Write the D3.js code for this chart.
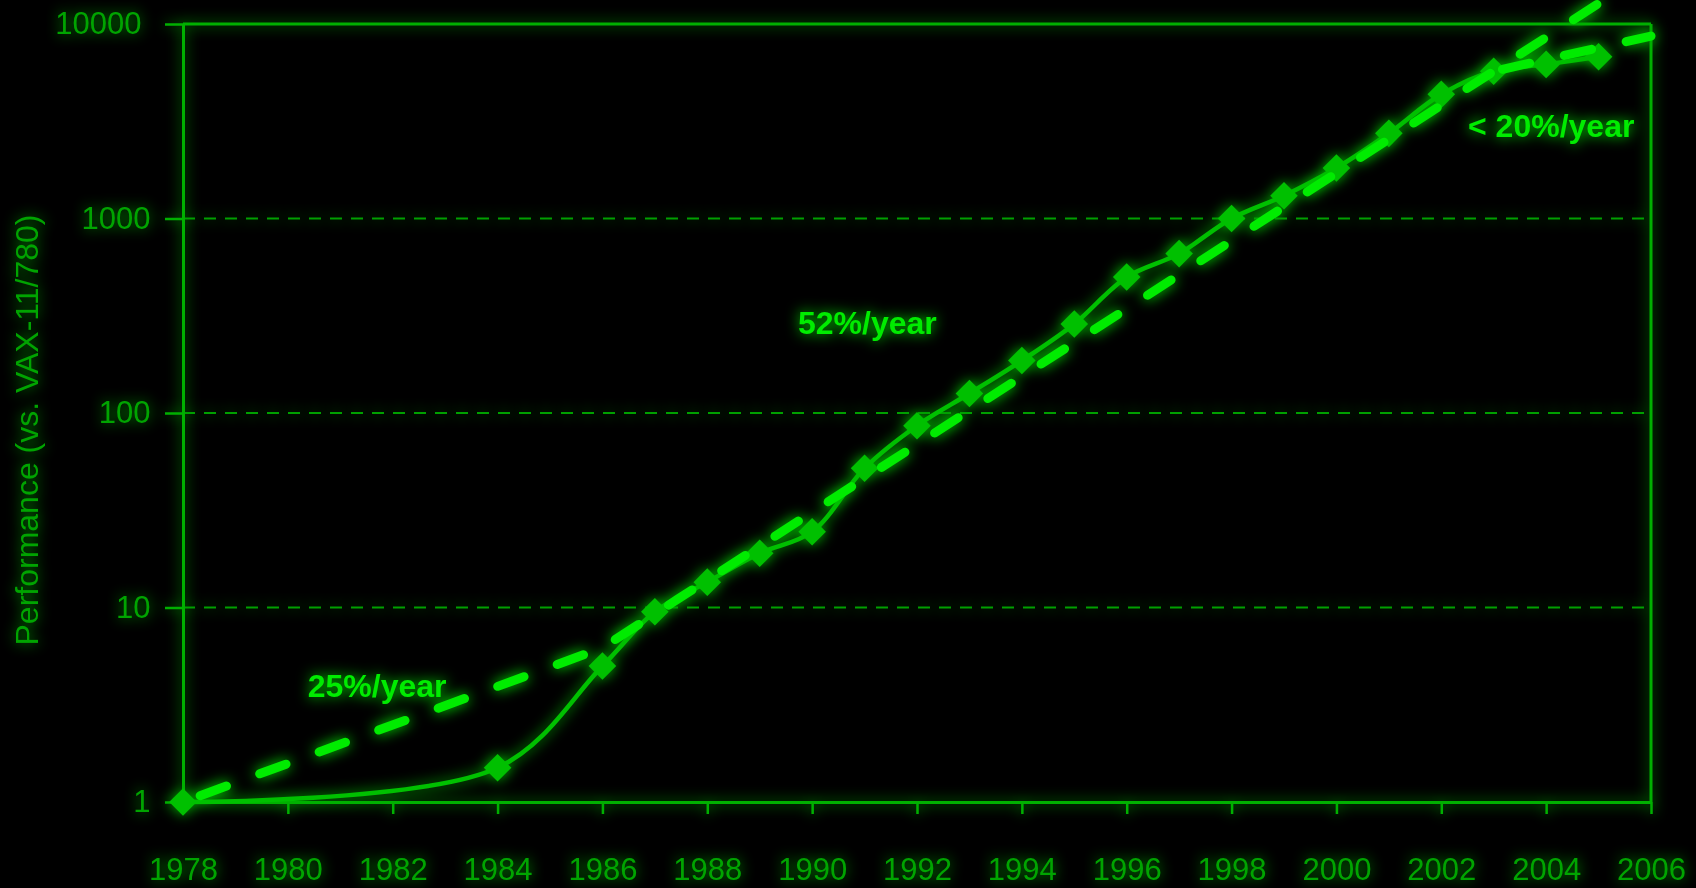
<!DOCTYPE html>
<html>
<head>
<meta charset="utf-8">
<script src="https://cdn.jsdelivr.net/npm/d3@7"></script>
<style>
  html, body { margin: 0; padding: 0; background: #000; }
  svg { display: block; }
</style>
</head>
<body>
<svg id="chart" width="1696" height="888"></svg>
<script>
// ---- data ----
const years = [1978, 1984, 1986, 1987, 1988, 1989, 1990, 1991, 1992, 1993, 1994, 1995, 1996, 1997, 1998, 1999, 2000, 2001, 2002, 2003, 2004, 2005];
const performance = [1, 1.5, 5.0, 9.5, 13.5, 19, 24.5, 52, 86, 126, 186, 287, 500, 660, 1000, 1310, 1820, 2740, 4350, 5720, 6200, 6780];

const trendYears = [1978, 1986, 2005];
const trendValues = [1, 6.2, 12760];

const slowYears = [2003, 2006];
const slowValues = [5715, 8670];

const xTicks = [1978, 1980, 1982, 1984, 1986, 1988, 1990, 1992, 1994, 1996, 1998, 2000, 2002, 2004, 2006];
const yTicks = [1, 10, 100, 1000, 10000];
const gridValues = [10, 100, 1000];

const annotations = [
  { text: "25%/year", year: 1980.38, value: 3.47 },
  { text: "52%/year", year: 1989.73, value: 255 },
  { text: "< 20%/year", year: 2002.51, value: 2624 }
];
const yTitle = "Performance (vs. VAX-11/780)";

// ---- layout ----
const svg = d3.select("#chart");
const L = 183, R = 1651, T = 24, B = 802;
const x = d3.scaleLinear().domain([1978, 2006]).range([L, R]);
const y = d3.scaleLog().domain([1, 10000]).range([B, T]);

const axisColor = "#00b000";
const labelColor = "#00a400";
const markColor = "#00c000";
const brightColor = "#00ec00";

const defs = svg.append("defs");
const f = defs.append("filter").attr("id", "glow")
  .attr("filterUnits", "userSpaceOnUse")
  .attr("x", 0).attr("y", 0).attr("width", 1696).attr("height", 888);
f.append("feGaussianBlur").attr("in", "SourceGraphic").attr("stdDeviation", 7).attr("result", "blur");
const ct = f.append("feComponentTransfer").attr("in", "blur").attr("result", "blur2");
ct.append("feFuncA").attr("type", "linear").attr("slope", 1.0);
const merge = f.append("feMerge");
merge.append("feMergeNode").attr("in", "blur2");
merge.append("feMergeNode").attr("in", "SourceGraphic");

svg.append("rect").attr("width", 1696).attr("height", 888).attr("fill", "#000");

const g = svg.append("g").attr("filter", "url(#glow)");

// gridlines
g.append("g").selectAll("line").data(gridValues).join("line")
  .attr("x1", L).attr("x2", R)
  .attr("y1", d => y(d)).attr("y2", d => y(d))
  .attr("stroke", "#00a000").attr("stroke-width", 2)
  .attr("stroke-dasharray", "12,9");

// frame top & right
g.append("line").attr("x1", L).attr("x2", R).attr("y1", T).attr("y2", T)
  .attr("stroke", axisColor).attr("stroke-width", 3);
g.append("line").attr("x1", R).attr("x2", R).attr("y1", T).attr("y2", B)
  .attr("stroke", axisColor).attr("stroke-width", 3);

// x axis
const xAxis = d3.axisBottom(x).tickValues(xTicks).tickFormat(d3.format("d"))
  .tickSize(12).tickSizeOuter(0).tickPadding(44);
const gx = g.append("g").attr("transform", `translate(0,${B})`).call(xAxis);
gx.select(".domain").attr("stroke", axisColor).attr("stroke-width", 3);
gx.selectAll(".tick line").attr("stroke", axisColor).attr("stroke-width", 2.5);
gx.selectAll(".tick text").attr("fill", labelColor)
  .style("font-family", "'Liberation Sans', Arial, sans-serif").style("font-size", "31px");

// y axis
const yAxis = d3.axisLeft(y).tickValues(yTicks).tickFormat(d3.format("d"))
  .tickSize(18).tickSizeOuter(0).tickPadding(14.5);
const gy = g.append("g").attr("transform", `translate(${L},0)`).call(yAxis);
gy.select(".domain").attr("stroke", axisColor).attr("stroke-width", 3);
gy.selectAll(".tick line").attr("stroke", axisColor).attr("stroke-width", 2.5);
gy.selectAll(".tick text").attr("fill", labelColor)
  .style("font-family", "'Liberation Sans', Arial, sans-serif").style("font-size", "31px")
  .attr("dx", d => d === 10000 ? -9 : 0);

// y title
g.append("text")
  .attr("transform", `translate(38,${430}) rotate(-90)`)
  .attr("text-anchor", "middle")
  .attr("fill", labelColor)
  .style("font-family", "'Liberation Sans', Arial, sans-serif").style("font-size", "32px")
  .text(yTitle);

// performance line
const perfData = years.map((yr, i) => ({ year: yr, value: performance[i] }));
const line = d3.line().x(d => x(d.year)).y(d => y(d.value)).curve(d3.curveCatmullRom.alpha(0.5));
g.append("path").datum(perfData).attr("d", line)
  .attr("fill", "none").attr("stroke", markColor).attr("stroke-width", 4.5);

// diamonds
const sym = d3.symbol().type(d3.symbolSquare).size(380);
g.append("g").selectAll("path").data(perfData).join("path")
  .attr("d", sym)
  .attr("transform", d => `translate(${x(d.year)},${y(d.value)}) rotate(45)`)
  .attr("fill", markColor);

// trend lines
const straight = d3.line().x(d => x(d.year)).y(d => y(d.value));
const trendData = trendYears.map((yr, i) => ({ year: yr, value: trendValues[i] }));
const slowData = slowYears.map((yr, i) => ({ year: yr, value: slowValues[i] }));
[[trendData, -18.3], [slowData, -8.9]].forEach(([dat, off]) => {
  g.append("path").datum(dat).attr("d", straight)
    .attr("fill", "none").attr("stroke", brightColor).attr("stroke-width", 9)
    .attr("stroke-linecap", "round").attr("stroke-dasharray", "28,35.4")
    .attr("stroke-dashoffset", off);
});

// annotations
g.append("g").selectAll("text").data(annotations).join("text")
  .attr("x", d => x(d.year)).attr("y", d => y(d.value))
  .attr("fill", brightColor)
  .style("font-family", "'Liberation Sans', Arial, sans-serif")
  .style("font-size", "32px").style("font-weight", "bold")
  .text(d => d.text);
</script>
</body>
</html>
